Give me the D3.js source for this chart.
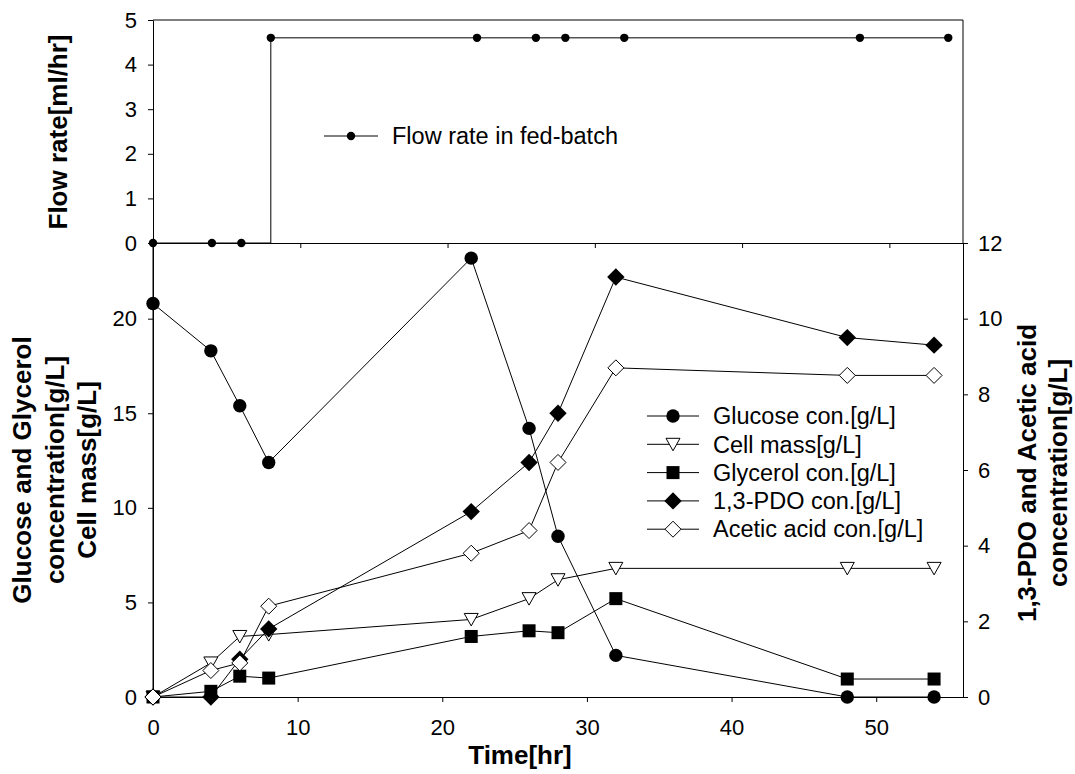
<!DOCTYPE html>
<html>
<head>
<meta charset="utf-8">
<script src="https://cdn.jsdelivr.net/npm/d3@7"></script>
<style>
  body { margin: 0; background: #fff; }
  svg { display: block; font-family: Arial, "Liberation Sans", sans-serif; }
  .axis path, .axis line { stroke: #000; stroke-width: 1; }
  .axis text { font-size: 22px; fill: #000; }
  .title { font-size: 26px; font-weight: bold; }
  .leg { font-size: 23.5px; }
</style>
</head>
<body>
<svg width="1075" height="774"></svg>
<script>
// sampling times (hr)
const times = [0, 4, 6, 8, 22, 26, 28, 32, 48, 54];

// top panel
const flowRate = [0, 0, 0, 4.6, 4.6, 4.6, 4.6, 4.6, 4.6, 4.6];

// bottom panel, left axis [g/L]
const glucose  = [20.8, 18.3, 15.4, 12.4, 23.2, 14.2, 8.5, 2.2, 0, 0];
const cellMass = [0, 1.8, 3.2, 3.3, 4.1, 5.2, 6.2, 6.8, 6.8, 6.8];
const glycerol = [0, 0.3, 1.1, 1.0, 3.2, 3.5, 3.4, 5.2, 0.95, 0.95];

// bottom panel, right axis [g/L]
const pdo    = [0, 0, 1.0, 1.8, 4.9, 6.2, 7.5, 11.1, 9.5, 9.3];
const acetic = [0, 0.7, 0.9, 2.4, 3.8, 4.4, 6.2, 8.7, 8.5, 8.5];

const xTicks = [0, 10, 20, 30, 40, 50];
const leftTicks = [0, 5, 10, 15, 20];
const rightTicks = [0, 2, 4, 6, 8, 10, 12];
const flowTicks = [0, 1, 2, 3, 4, 5];

const svg = d3.select("svg");
const L = 153, R = 963, topY = 20, midY = 243, botY = 697;
const fmt = d3.format("d");

const xTop = d3.scaleLinear().domain([0, 55]).range([L, R]);
const yTop = d3.scaleLinear().domain([0, 5]).range([midY, topY]);
const xBot = d3.scaleLinear().domain([0, 56]).range([L, R]);
const yLeft = d3.scaleLinear().domain([0, 24]).range([botY, midY]);
const yRight = d3.scaleLinear().domain([0, 12]).range([botY, midY]);

// marker shapes
function marker(g, kind, x, y) {
  if (kind === "circle") {
    g.append("circle").attr("cx", x).attr("cy", y).attr("r", 6.7).attr("fill", "#000");
  } else if (kind === "smallcircle") {
    g.append("circle").attr("cx", x).attr("cy", y).attr("r", 4.2).attr("fill", "#000");
  } else if (kind === "square") {
    g.append("rect").attr("x", x - 6.5).attr("y", y - 6.5).attr("width", 13).attr("height", 13).attr("fill", "#000");
  } else if (kind === "tri") {
    g.append("path").attr("d", `M${x - 7},${y - 6}L${x + 7},${y - 6}L${x},${y + 6.5}Z`)
      .attr("fill", "#fff").attr("stroke", "#000").attr("stroke-width", 1);
  } else if (kind === "diamond") {
    g.append("path").attr("d", `M${x},${y - 8.7}L${x + 8.7},${y}L${x},${y + 8.7}L${x - 8.7},${y}Z`).attr("fill", "#000");
  } else if (kind === "odiamond") {
    g.append("path").attr("d", `M${x},${y - 8}L${x + 8},${y}L${x},${y + 8}L${x - 8},${y}Z`)
      .attr("fill", "#fff").attr("stroke", "#000").attr("stroke-width", 1);
  }
}

// ---- top panel ----
svg.append("g").attr("class", "axis").attr("transform", `translate(${L},0)`)
  .call(d3.axisLeft(yTop).tickValues(flowTicks).tickFormat(fmt).tickSize(5).tickPadding(11).tickSizeOuter(0));
svg.append("g").attr("class", "axis").attr("transform", `translate(0,${midY})`)
  .call(d3.axisBottom(xTop).tickValues(xTicks).tickSize(5).tickSizeOuter(0).tickFormat(""));
svg.append("line").attr("x1", L).attr("x2", R).attr("y1", topY).attr("y2", topY).attr("stroke", "#000");
svg.append("line").attr("x1", R).attr("x2", R).attr("y1", topY).attr("y2", midY).attr("stroke", "#000");

const flowPts = times.map((t, i) => [t, flowRate[i]]);
svg.append("path").datum(flowPts)
  .attr("d", d3.line().x(d => xTop(d[0])).y(d => yTop(d[1])).curve(d3.curveStepAfter))
  .attr("fill", "none").attr("stroke", "#000").attr("stroke-width", 1);
const gFlow = svg.append("g");
flowPts.forEach(d => marker(gFlow, "smallcircle", xTop(d[0]), yTop(d[1])));

// top legend
const tl = svg.append("g");
tl.append("line").attr("x1", 324).attr("x2", 378).attr("y1", 136).attr("y2", 136).attr("stroke", "#000");
marker(tl, "smallcircle", 351, 136);
tl.append("text").attr("class", "leg").attr("x", 392).attr("y", 136).attr("dy", "0.35em").text("Flow rate in fed-batch");

// ---- bottom panel ----
svg.append("g").attr("class", "axis").attr("transform", `translate(0,${botY})`)
  .call(d3.axisBottom(xBot).tickValues(xTicks).tickFormat(fmt).tickSize(5).tickPadding(17).tickSizeOuter(0));
svg.append("g").attr("class", "axis").attr("transform", `translate(${L},0)`)
  .call(d3.axisLeft(yLeft).tickValues(leftTicks).tickFormat(fmt).tickSize(5).tickPadding(11).tickSizeOuter(0));
svg.append("line").attr("x1", L).attr("x2", L).attr("y1", midY).attr("y2", botY).attr("stroke", "#000");
svg.append("g").attr("class", "axis").attr("transform", `translate(${R},0)`)
  .call(d3.axisRight(yRight).tickValues(rightTicks).tickFormat(fmt).tickSize(5).tickPadding(10).tickSizeOuter(0));

const series = [
  { name: "Glucose con.[g/L]", vals: glucose, y: yLeft, kind: "circle" },
  { name: "Cell mass[g/L]", vals: cellMass, y: yLeft, kind: "tri" },
  { name: "Glycerol con.[g/L]", vals: glycerol, y: yLeft, kind: "square" },
  { name: "1,3-PDO con.[g/L]", vals: pdo, y: yRight, kind: "diamond" },
  { name: "Acetic acid con.[g/L]", vals: acetic, y: yRight, kind: "odiamond" }
];

series.forEach(s => {
  const pts = times.map((t, i) => [xBot(t), s.y(s.vals[i])]);
  svg.append("path").datum(pts).attr("d", d3.line())
    .attr("fill", "none").attr("stroke", "#000").attr("stroke-width", 1);
  const g = svg.append("g");
  pts.forEach(p => marker(g, s.kind, p[0], p[1]));
});

// bottom legend
const bl = svg.append("g");
series.forEach((s, i) => {
  const y = 416 + i * 28.3;
  bl.append("line").attr("x1", 647).attr("x2", 699).attr("y1", y).attr("y2", y).attr("stroke", "#000");
  marker(bl, s.kind, 673, y);
  bl.append("text").attr("class", "leg").attr("x", 713).attr("y", y).attr("dy", "0.35em").text(s.name);
});

// ---- axis titles ----
svg.append("text").attr("class", "title").attr("text-anchor", "middle")
  .attr("transform", "translate(67,132) rotate(-90)").text("Flow rate[ml/hr]");

const leftTitle = ["Glucose and Glycerol", "concentration[g/L]", "Cell mass[g/L]"];
leftTitle.forEach((t, i) => {
  svg.append("text").attr("class", "title").attr("text-anchor", "middle")
    .attr("transform", `translate(${31 + i * 32.5},470) rotate(-90)`).text(t);
});

const rightTitle = ["1,3-PDO and Acetic acid", "concentration[g/L]"];
rightTitle.forEach((t, i) => {
  svg.append("text").attr("class", "title").attr("text-anchor", "middle")
    .attr("transform", `translate(${1036 + i * 31},473) rotate(-90)`).text(t);
});

svg.append("text").attr("class", "title").attr("text-anchor", "middle")
  .attr("x", 520).attr("y", 764).text("Time[hr]");
</script>
</body>
</html>
